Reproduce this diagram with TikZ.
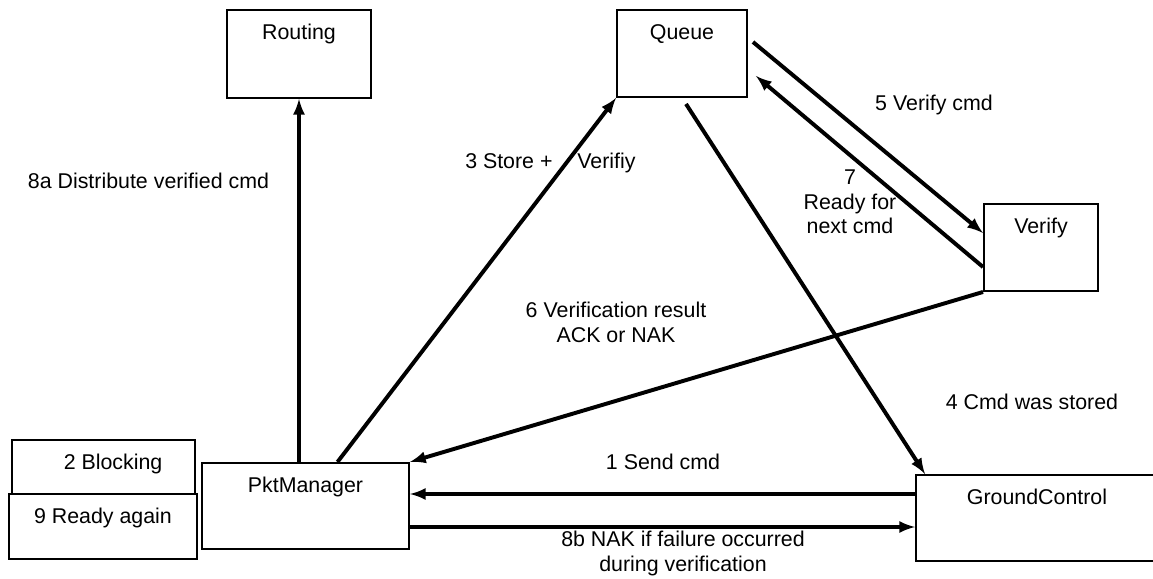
\documentclass[tikz,border=0pt]{standalone}
\usepackage{fontspec}
\setmainfont{Liberation Sans}
\begin{document}
\begin{tikzpicture}[font=\fontsize{15.2}{17.4}\selectfont,
  box/.style={draw, line width=1.4pt, anchor=north, inner xsep=0pt, inner ysep=.34cm, text height=.4cm},
  flow/.style={-latex, line width=2.8pt},
  lbl/.style={align=center, inner sep=0pt}]
  \useasboundingbox (0,0) rectangle (28.825,14.45);
  % components
  \node[box, minimum width=3.6cm, text depth=1.12cm] (routing) at (7.475,14.225) {Routing};
  \node[box, minimum width=3.25cm, text depth=1.095cm] (queue) at (17.05,14.225) {Queue};
  \node[box, minimum width=2.85cm, text depth=1.095cm] (verify) at (26.025,9.375) {Verify};
  \node[box, minimum width=5.175cm, text depth=1.07cm] (pkt) at (7.6375,2.9) {PktManager};
  \node[box, minimum width=6.05cm, text depth=1.07cm] (ground) at (25.925,2.6) {GroundControl};
  \node[box, minimum width=4.575cm, text depth=.27cm] (blocking) at (2.5875,3.475) {\hspace*{.48cm}2 Blocking};
  \node[box, minimum width=4.7cm, text depth=.545cm] (ready) at (2.575,2.125) {9 Ready again};
  % messages
  \draw[flow] (pkt.north -| routing.south) -- (routing.south);
  \draw[flow] ([xshift=.8cm]pkt.north) -- (queue.south west);
  \draw[flow] ([shift={(.1,-.15)}]queue.south) -- ([xshift=.25cm]ground.north west);
  \draw[flow] ([shift={(.125,-.825)}]queue.north east) -- ([yshift=-.75cm]verify.north west);
  \draw[flow] ([yshift=-1.6cm]verify.north west) -- ([shift={(.2,-1.675)}]queue.north east);
  \draw[flow] (verify.south west) -- (pkt.north east);
  \draw[flow] (ground.west |- 0,2.1) -- (pkt.east |- 0,2.1);
  \draw[flow] (pkt.east |- 0,1.275) -- (ground.west |- 0,1.275);
  % labels
  \node[lbl] (l8a) at (3.7125,9.925) {8a Distribute verified cmd};
  \node[lbl] (l3) at (13.76,10.375) {3 Store +\hspace{.62cm}Verifiy};
  \node[lbl] (l5) at (23.35,11.825) {5 Verify cmd};
  \node[lbl] (l7) at (21.25,9.4) {7\\Ready for\\next cmd};
  \node[lbl] (l6) at (15.4,6.3875) {6 Verification result\\ACK or NAK};
  \node[lbl] (l4) at (25.8,4.4) {4 Cmd was stored};
  \node[lbl] (l1) at (16.575,2.9) {1 Send cmd};
  \node[lbl] (l8b) at (17.075,.6125) {8b NAK if failure occurred\\during verification};
\end{tikzpicture}
\end{document}
